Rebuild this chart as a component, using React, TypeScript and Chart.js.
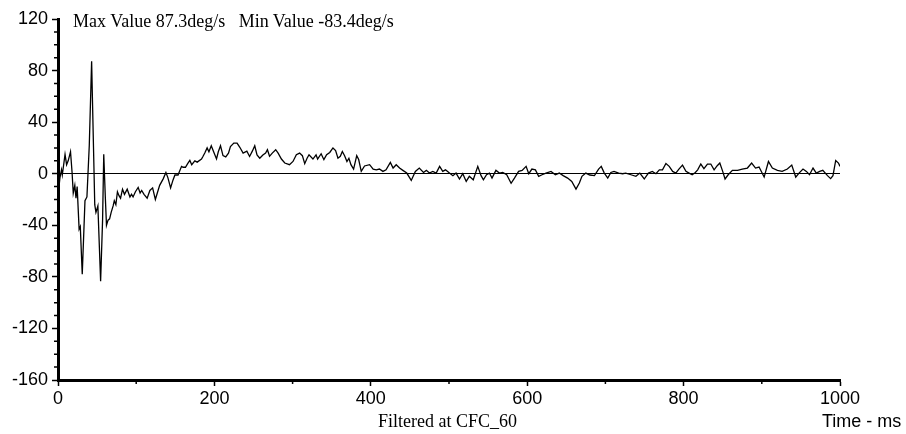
import React, { useEffect, useRef } from "react";
import { Chart, registerables } from "chart.js";

Chart.register(...registerables);

const titleText = "Max Value 87.3deg/s   Min Value -83.4deg/s";
const filterText = "Filtered at CFC_60";
const xAxisText = "Time - ms";

const yMin = -160;
const yMax = 120;
const yMajorStep = 40;
const yMinorStep = 10;
const xMin = 0;
const xMax = 1000;
const xMajorStep = 200;
const xMinorStep = 100;

const times = [
  0, 2.5, 4.5, 5.5, 9, 11, 13, 16, 18, 19.5, 21.5, 23, 24.5, 27, 28.5, 31, 34.5, 37, 40, 43, 44, 47, 48.5, 51, 54.5, 57, 58.5,
  60.5, 62, 64, 66, 68, 70.5, 72, 74, 76, 78, 80, 82.5, 85, 88.5, 92, 94, 96, 99, 102.5, 105, 107, 110, 114, 117.5, 121,
  124.5, 127, 130, 134.5, 138, 140.5, 144, 147, 149.5, 153.5, 158, 160, 163, 166, 168.6, 171, 175, 178, 183.5, 185.5, 187.7,
  190.7, 193, 196, 199, 202.7, 205, 207.8, 211, 214.5, 218, 220.5, 224.8, 229, 232.5, 236.7, 241.5, 245, 248.5, 251.6,
  254.5, 258, 262, 265.5, 267.8, 270.5, 274, 278.4, 281.5, 285.7, 290, 296, 300.5, 304.8, 309, 312.5, 315.5, 318.5, 321,
  326, 330, 332, 336.5, 340, 343.5, 347.5, 351.6, 355, 358, 361, 363.6, 366.5, 369.5, 372, 374.6, 378, 382, 384.5, 387.8,
  392, 398.5, 403, 407, 411, 415.5, 419.5, 425, 428.5, 432.5, 436.8, 441, 446, 451.7, 457, 462, 467.4, 471, 475, 479.3,
  483.6, 488, 492, 495.5, 500.6, 505, 509, 513.4, 517.6, 522, 526, 531, 536.8, 541, 544, 548, 551.7, 555, 560, 564.5,
  568.7, 573.8, 579.4, 583.7, 589, 593.5, 598.6, 602, 606, 610.5, 614.7, 619, 624, 630.5, 636, 641, 646, 651.7, 657,
  662.4, 666.7, 670, 675, 680, 686, 691.3, 694.7, 698.6, 703, 707, 711, 717, 722, 726, 732.7, 739, 744, 749.7, 755, 760,
  764.6, 769, 773, 777.4, 781.6, 786, 790, 794, 798.6, 803, 807, 811, 815, 818, 822, 826, 830.5, 834.8, 839, 843, 846.3,
  850, 853, 857, 862.4, 869, 875, 881.6, 887, 892, 896.5, 903, 908.5, 913.5, 920, 926, 932.7, 938.3, 943.4, 947.6, 952.7,
  957, 961, 965.5, 969.7, 974, 978, 984, 988, 991, 994.5, 998, 1000,
];

const values = [
  -17, -3, 3, -1, 15, 7, 10, 17, 1, -15, -9, -19, -10, -43, -41, -78, -21, -18, 22, 87.3, 59, -24, -30, -25, -83.4, -36, 15,
  -18, -40, -36, -35, -30, -25, -21, -24, -14, -17, -19, -12, -16, -12, -18, -16, -18, -14, -10.6, -15, -13, -16, -19, -13, -11,
  -20, -15, -9, -4, 1, -3, -11, -5, -1, -1, 5.7, 5, 5, 8, 10.3, 7, 10, 9, 11.4, 13.5, 16,
  20, 17, 21.7, 17, 11.4, 17, 21.7, 14, 13, 16, 21, 23.8, 23.8, 20.5, 16, 17.5, 13.4, 17.5, 21.7,
  14.5, 12, 14.5, 16, 18.6, 13.5, 16, 18.6, 16, 11.4, 8.3, 7, 9.5, 14.7, 16, 14, 7.8, 12, 14.7,
  11.4, 14.7, 11.4, 15.5, 10.9, 14.7, 16.5, 20, 18, 12, 13.5, 17.3, 14, 9.5, 12, 7, 3.6, 14, 11, 1.8,
  6, 7, 3.6, 3, 3.6, 1.8, 3, 8.8, 4.4, 7, 4.4, 2.6, 0.5, -5.2, 1.8, 4.4, 1, 2.6, 0.5, 1.8,
  0.5, 5.7, 1.8, 3, 0.5, -1.5, 0.5, -4.1, 0, -6, -2, -4.7, 5.7, -1.5, -4.7, -0.8, 0.5, -3.4, 2.6, 0.5,
  1, -0.8, -7.4, -3.4, 1.8, 2.6, 5.7, 0, 3.6, 3, -2, -0.8, 0.5, 1.8, -0.8, 0.5, -1.5, -3.4, -6,
  -11.9, -7.2, -2, 0.5, -1, -1.5, 3.6, 5.7, 0.5, -3.4, 1, 1.8, 0.5, 0, 0.5, -0.8, -2, 0.5, -4.1, 0.5, 1.8,
  0, 3, 3, 7.9, 5.7, 1.8, 0.5, 3.6, 6.7, 1.8, 0.5, -0.8, 1, 3, 7.5, 4, 7.5, 7.5, 3, 6.2, 8.3,
  1.8, -4.1, -0.8, 2.6, 2.6, 3.6, 4.4, 8.3, 4.4, 5.2, -2.6, 9.5, 4.4, 2.6, 1.8, 3.6, 6.7, -2.6, 0.5, 3.6,
  1.8, -0.8, 4.4, 0.5, 1.8, 2.6, -1.5, -3.8, -1.5, 10.3, 8.3, 5.7,
];

const SANS = "'Liberation Sans', Arial, sans-serif";
const SERIF = "'Liberation Serif', 'Times New Roman', serif";

const minorTicksPlugin = {
  id: "minorTicks",
  afterDraw(chart: any) {
    const ctx = chart.ctx;
    const xs = chart.scales.x;
    const ys = chart.scales.y;
    const area = chart.chartArea;
    ctx.save();
    ctx.strokeStyle = "#000";
    ctx.lineWidth = 1.5;
    ctx.beginPath();
    for (let v = xMin + xMinorStep; v < xMax; v += xMinorStep) {
      if (v % xMajorStep === 0) continue;
      const px = xs.getPixelForValue(v);
      ctx.moveTo(px, area.bottom);
      ctx.lineTo(px, area.bottom + 4);
    }
    for (let v = yMin + yMinorStep; v < yMax; v += yMinorStep) {
      if (v % yMajorStep === 0) continue;
      const py = ys.getPixelForValue(v);
      ctx.moveTo(area.left - 4, py);
      ctx.lineTo(area.left, py);
    }
    ctx.stroke();
    ctx.restore();
  },
};

export default function App() {
  const canvasRef = useRef<HTMLCanvasElement | null>(null);

  useEffect(() => {
    document.body.style.margin = "0";
    const canvas = canvasRef.current;
    if (!canvas) return;
    const chart = new Chart(canvas, {
      type: "line",
      data: {
        datasets: [
          {
            data: times.map((t, i) => ({ x: t, y: values[i] })),
            borderColor: "#000",
            borderWidth: 1.3,
            pointRadius: 0,
            tension: 0,
            fill: false,
          },
        ],
      },
      options: {
        responsive: false,
        animation: false,
        layout: { padding: { top: 19, right: 66, bottom: 0, left: 0 } },
        plugins: {
          legend: { display: false },
          tooltip: { enabled: false },
          title: { display: false },
        },
        scales: {
          x: {
            type: "linear",
            min: xMin,
            max: xMax,
            afterFit: (s: any) => {
              s.height = 54;
            },
            ticks: {
              stepSize: xMajorStep,
              color: "#000",
              font: { family: SANS, size: 18 },
              padding: 2,
              maxRotation: 0,
              callback: (v: any) => String(v),
            },
            grid: {
              drawOnChartArea: false,
              tickLength: 6,
              tickColor: "#000",
              tickWidth: 1.5,
            },
            border: { display: true, color: "#000", width: 3 },
          },
          y: {
            type: "linear",
            min: yMin,
            max: yMax,
            afterFit: (s: any) => {
              s.width = 58;
            },
            ticks: {
              stepSize: yMajorStep,
              color: "#000",
              font: { family: SANS, size: 18 },
              padding: 4,
              callback: (v: any) => String(v),
            },
            grid: {
              drawOnChartArea: true,
              color: (c: any) => (c.tick && c.tick.value === 0 ? "#000" : "rgba(0,0,0,0)"),
              lineWidth: 1,
              tickLength: 6,
              tickColor: "#000",
              tickWidth: 1.5,
            },
            border: { display: true, color: "#000", width: 3 },
          },
        },
      },
      plugins: [minorTicksPlugin],
    });
    return () => chart.destroy();
  }, []);

  return (
    <div style={{ position: "relative", width: 906, height: 434, background: "#fff", overflow: "hidden" }}>
      <canvas ref={canvasRef} width={906} height={434} style={{ display: "block" }} />
      <div
        style={{
          position: "absolute",
          left: 73,
          top: 12,
          fontFamily: SERIF,
          fontSize: 18,
          lineHeight: "18px",
          whiteSpace: "pre",
          color: "#000",
        }}
      >
        {titleText}
      </div>
      <div
        style={{
          position: "absolute",
          left: 378,
          top: 412,
          fontFamily: SERIF,
          fontSize: 18,
          lineHeight: "18px",
          whiteSpace: "pre",
          color: "#000",
        }}
      >
        {filterText}
      </div>
      <div
        style={{
          position: "absolute",
          left: 822,
          top: 412,
          fontFamily: SANS,
          fontSize: 18,
          lineHeight: "18px",
          whiteSpace: "pre",
          color: "#000",
        }}
      >
        {xAxisText}
      </div>
    </div>
  );
}
